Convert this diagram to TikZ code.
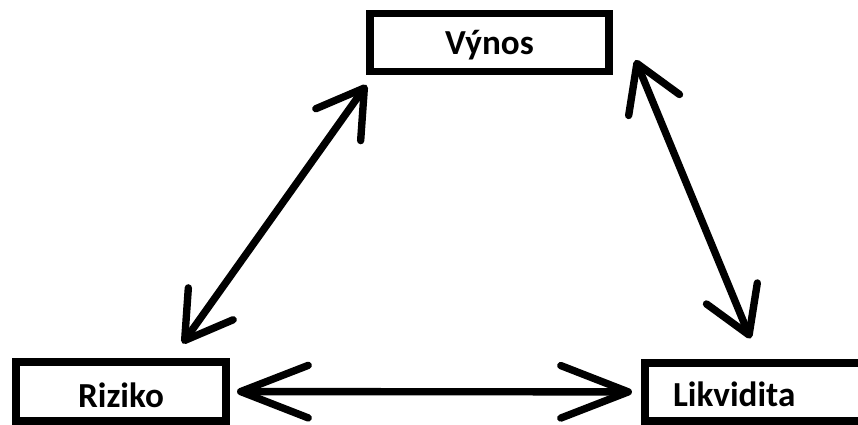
\documentclass[tikz,border=0pt]{standalone}
\usepackage{fontspec}
\setmainfont{Carlito}
\usetikzlibrary{arrows.meta}

\begin{document}
\begin{tikzpicture}[
        box/.style={draw, line width=4pt, font=\fontsize{20}{24}\selectfont\bfseries, text depth=0pt},
        twoway/.style={<->, line width=4.2pt},
        >={Straight Barb[length=0.9cm, width=1.1cm, round]}
    ]
        \useasboundingbox (0,0) rectangle (17.16,8.5);

        % Boxes
        \node[box, minimum width=4.78cm, minimum height=1.16cm, text height=0.5cm] (vynos) at (9.79,7.65) {Výnos};
        \node[box, minimum width=4.2cm, minimum height=1.18cm, text height=0.66cm] (riziko) at (2.42,0.67) {Riziko};
        \node[box, minimum height=1.16cm, text height=0.6cm, text width=3.48cm, inner xsep=0.56cm, align=left] (likv) at (15.2,0.66) {Likvidita};

        % Connectors
        \draw[twoway] ([yshift=-0.2cm]vynos.south west) -- ([shift={(-0.94,0.3)}]riziko.north east);
        \draw[twoway] ([shift={(0.46,-0.35)}]vynos.east) -- ([shift={(2.18,0.42)}]likv.north west);
        \draw[twoway, >={Straight Barb[length=1.35cm, width=1.05cm, round]}, shorten <=0.15cm, shorten >=0.19cm] (riziko) -- (likv);
    \end{tikzpicture}
\end{document}
